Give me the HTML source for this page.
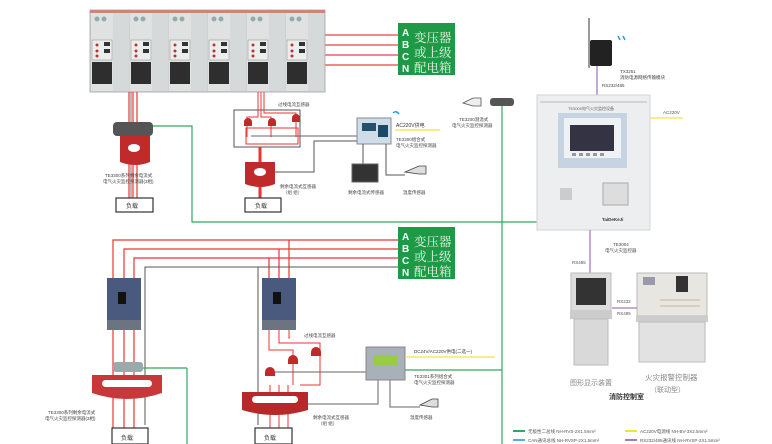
<!DOCTYPE html>
<html><head><meta charset="utf-8"><style>
html,body{margin:0;padding:0;background:#fff}
svg{display:block}
text{font-family:"Liberation Sans","Noto Sans CJK SC",sans-serif}
.sf{font-family:"Liberation Serif","Noto Serif CJK SC",serif}
</style></head><body>
<svg width="772" height="444" viewBox="0 0 772 444" xmlns="http://www.w3.org/2000/svg">
<rect width="772" height="444" fill="#fff"/>
<!-- top cabinets -->
<g>
<rect x="90" y="10" width="235" height="82" fill="#cfd2d2" stroke="#b0b3b3"/>
<g id="cab">
<rect x="91" y="12" width="22" height="79" fill="#e0e2e2"/>
<circle cx="97" cy="19" r="2.5" fill="#9aa"/><circle cx="104" cy="19" r="2.5" fill="#9aa"/>
<rect x="92" y="40" width="20" height="20" fill="#eceeee" stroke="#888" stroke-width=".5"/>
<circle cx="97" cy="45" r="1.5" fill="#b33"/><circle cx="97" cy="51" r="1.5" fill="#b33"/><circle cx="97" cy="56" r="1.5" fill="#b33"/>
<rect x="104" y="42" width="6" height="4" fill="#333"/><rect x="104" y="49" width="6" height="4" fill="#333"/>
<rect x="92" y="62" width="20" height="22" fill="#2e2e2e"/>
<rect x="113" y="12" width="16" height="79" fill="#d6d9d9"/>
</g>
<use href="#cab" x="39"/><use href="#cab" x="78"/><use href="#cab" x="117"/><use href="#cab" x="156"/><use href="#cab" x="195"/>
<rect x="90" y="10" width="235" height="3" fill="#c9867a"/>
</g>
<!-- top feeders to green box -->
<g stroke="#f08a8a" stroke-width="2"><line x1="325" y1="35" x2="398" y2="35"/><line x1="325" y1="45" x2="398" y2="45"/><line x1="325" y1="55" x2="398" y2="55"/><line x1="325" y1="65" x2="398" y2="65"/></g>
<g id="gbox"><rect x="398" y="23" width="57" height="52" fill="#1e9a46"/>
<text x="402" y="36" font-size="10" fill="#fff" font-weight="bold">A</text><text x="402" y="48" font-size="10" fill="#fff" font-weight="bold">B</text><text x="402" y="60" font-size="10" fill="#fff" font-weight="bold">C</text><text x="402" y="72" font-size="10" fill="#fff" font-weight="bold">N</text>
<text class="sf" x="414" y="42" font-size="12.5" fill="#e8f5ea">变压器</text><text class="sf" x="414" y="57" font-size="12.5" fill="#e8f5ea">或上级</text><text class="sf" x="414" y="72" font-size="12.5" fill="#e8f5ea">配电箱</text></g>
<use href="#gbox" y="204"/>

<!-- left top branch -->
<g stroke="#e33" stroke-width="1.2"><line x1="129" y1="92" x2="129" y2="200"/><line x1="133" y1="92" x2="133" y2="200"/><line x1="137" y1="92" x2="137" y2="200"/></g>
<line x1="131" y1="92" x2="131" y2="200" stroke="#555" stroke-width=".8"/>
<rect x="113" y="122" width="40" height="14" rx="4" fill="#555"/>
<path d="M120 136 h30 v26 q-15 6 -30 0z" fill="#c02a2a"/>
<ellipse cx="134" cy="148" rx="6" ry="4" fill="#fff"/>
<text x="105" y="177" font-size="4.5" fill="#444">TE3300系列剩余电流式</text><text x="103" y="183" font-size="4.5" fill="#444">电气火灾监控探测器(3相)</text>
<rect x="116" y="198" width="37" height="14" fill="#fff" stroke="#333" stroke-width="1.2"/><text x="126" y="208" font-size="6" fill="#333">负载</text>
<polyline points="153,126 192,126 192,222 537,222" fill="none" stroke="#33a860" stroke-width="1.2"/>

<!-- middle top branch -->
<g fill="none" stroke-width="1"><rect x="234" y="110" width="66" height="37" stroke="#555"/>
<polyline points="258,92 258,117 247,117 247,137" stroke="#e33"/><polyline points="261,92 261,117 271,117 271,137" stroke="#e33"/>
<polyline points="264,92 264,113 296,113 296,137" stroke="#e33"/>
<rect x="246" y="128" width="52" height="16" stroke="#e33"/>
<line x1="260" y1="147" x2="260" y2="200" stroke="#e33" stroke-width="3"/>
<polyline points="251,136 357,136 M274,129 357,129 M298,123 357,123" stroke="#666"/>
<polyline points="275,172 314,172 314,141 357,141" stroke="#555"/></g>
<path d="M244 122 a4 4 0 0 1 8 0 v4 h-8z M268 122 a4 4 0 0 1 8 0 v4 h-8z M292 118 a4 4 0 0 1 8 0 v4 h-8z" fill="#c02a2a"/>
<path d="M245 162 h30 v22 q-15 6 -30 0z" fill="#c02a2a"/><ellipse cx="260" cy="172" rx="6" ry="4" fill="#fff"/>
<text x="278" y="106" font-size="4.5" fill="#444">过线电流互感器</text>
<text x="280" y="188" font-size="4.5" fill="#444">剩余电流式互感器</text><text x="283" y="194" font-size="4.5" fill="#444">（组 组）</text>
<rect x="245" y="198" width="36" height="14" fill="#fff" stroke="#333" stroke-width="1.2"/><text x="255" y="208" font-size="6" fill="#333">负载</text>
<rect x="357" y="118" width="34" height="26" fill="#cfdde8" stroke="#889"/><rect x="362" y="123" width="14" height="8" fill="#254f6a"/><rect x="378" y="125" width="10" height="12" fill="#1a4a6a"/>
<line x1="395" y1="130" x2="440" y2="130" stroke="#f2e33a" stroke-width="1.3"/>
<text x="396" y="127" font-size="5" fill="#333">AC220V供电</text>
<text x="396" y="141" font-size="4.5" fill="#444">TE3300组合式</text><text x="396" y="147" font-size="4.5" fill="#444">电气火灾监控探测器</text>
<path d="M393 113 q3 -3 6 1" stroke="#2a9de0" stroke-width="1.5" fill="none"/>
<polyline points="363,144 363,165" stroke="#555" fill="none"/><polyline points="386,144 386,175 405,175" stroke="#555" fill="none"/>
<rect x="352" y="164" width="26" height="18" fill="#333" stroke="#666"/>
<text x="348" y="194" font-size="4.5" fill="#444">剩余电流式传感器</text>
<path d="M405 172 l14 -6 h7 v8 h-7z" fill="#ddd" stroke="#444" stroke-width=".8"/><text x="403" y="194" font-size="4.5" fill="#444">温度传感器</text>

<!-- TE3200 sensor + green vertical -->
<path d="M463 103 l10 -5 h8 v8 h-8z" fill="#eee" stroke="#555" stroke-width=".8"/><rect x="490" y="98" width="24" height="8" rx="3" fill="#555"/>
<text x="459" y="121" font-size="4.5" fill="#444">TE3200测温式</text><text x="452" y="127" font-size="4.5" fill="#444">电气火灾监控探测器</text>
<line x1="502" y1="106" x2="502" y2="444" stroke="#33a860" stroke-width="1.2"/>

<!-- TX3251 -->
<line x1="589" y1="18" x2="589" y2="68" stroke="#333"/>
<rect x="590" y="40" width="22" height="26" rx="2" fill="#222"/>
<text x="620" y="73" font-size="4.5" fill="#444">TX3251</text><text x="620" y="79" font-size="4.5" fill="#444">消防电源网络传输模块</text>
<path d="M618 36 l2 4 M623 36 l2 4" stroke="#2a9de0" stroke-width="1.5"/>
<line x1="597" y1="66" x2="597" y2="95" stroke="#a07cc0" stroke-width="1.3"/>
<text x="602" y="87" font-size="4.5" fill="#444">RS232/485</text>
<!-- main unit -->
<rect x="537" y="95" width="113" height="135" fill="#eceeef" stroke="#d2d4d6"/>
<line x1="540" y1="102" x2="647" y2="102" stroke="#bbb"/>
<text x="568" y="110" font-size="4" fill="#666">TE3000电气火灾监控设备</text>
<rect x="558" y="113" width="69" height="55" fill="#c5d3e2"/>
<rect x="564" y="118" width="57" height="40" fill="#eef2f5"/><rect x="570" y="125" width="44" height="26" fill="#334"/>
<g fill="#999"><rect x="572" y="153" width="4" height="3"/><rect x="579" y="153" width="4" height="3"/><rect x="586" y="153" width="4" height="3"/><rect x="593" y="153" width="4" height="3"/><rect x="600" y="153" width="4" height="3"/></g>
<rect x="560" y="188" width="12" height="12" fill="#ccc"/><rect x="603" y="183" width="25" height="22" fill="#ddd" stroke="#aaa"/>
<text x="602" y="221" font-size="4.5" fill="#333" font-weight="bold">TaiDeKeJi</text>
<line x1="650" y1="118" x2="683" y2="118" stroke="#f2e33a" stroke-width="1.3"/><text x="663" y="114" font-size="4.5" fill="#555">AC220V</text>
<line x1="590" y1="230" x2="590" y2="273" stroke="#a07cc0" stroke-width="1.3"/>
<text x="613" y="246" font-size="4.5" fill="#444">TE3004</text><text x="605" y="252" font-size="4.5" fill="#444">电气火灾监控器</text>
<text x="572" y="264" font-size="4.5" fill="#555">RS485</text>

<!-- bottom feeders -->
<g stroke="#e33" stroke-width="1.2" fill="none"><polyline points="398,240 113,240 113,278"/><polyline points="398,249 124,249 124,278"/><polyline points="398,258 134,258 134,278"/>
<polyline points="289,240 289,278"/><polyline points="279,249 279,278"/><polyline points="269,258 269,278"/></g>
<g stroke="#555" stroke-width="1" fill="none"><polyline points="398,267 145,267 145,425"/><polyline points="258,267 258,425"/></g>
<g id="brk"><rect x="107" y="278" width="34" height="52" fill="#4a5a7e"/><rect x="107" y="320" width="34" height="10" fill="#6b7480"/><rect x="118" y="292" width="8" height="12" fill="#111"/></g>
<use href="#brk" x="155"/>
<g stroke="#e33" stroke-width="1.2"><line x1="113" y1="330" x2="113" y2="428"/><line x1="124" y1="330" x2="124" y2="428"/><line x1="134" y1="330" x2="134" y2="428"/></g>
<rect x="113" y="362" width="30" height="10" rx="3" fill="#9aa"/>
<path d="M92 375 h70 v18 q-35 12 -70 0z" fill="#c83838"/><rect x="102" y="380" width="50" height="7" rx="3.5" fill="#fff"/>
<line x1="143" y1="368" x2="187" y2="368" stroke="#33a860" stroke-width="1.2"/><line x1="187" y1="368" x2="187" y2="444" stroke="#33a860" stroke-width="1.2"/>
<text x="48" y="414" font-size="4.5" fill="#444">TE3300系列剩余电流式</text><text x="45" y="420" font-size="4.5" fill="#444">电气火灾监控探测器(3相)</text>
<rect x="112" y="428" width="36" height="16" fill="#fff" stroke="#333" stroke-width="1.2"/><text x="121" y="440" font-size="6" fill="#333">负载</text>
<!-- middle bottom -->
<g stroke="#e33" stroke-width="1" fill="none"><polyline points="269,330 269,350 293,350 293,385"/><polyline points="279,330 279,343 320,343 320,385 300,385"/><polyline points="289,330 289,338 290,338"/>
<line x1="270" y1="385" x2="270" y2="428"/><line x1="279" y1="385" x2="279" y2="428"/><line x1="288" y1="385" x2="288" y2="428"/></g>
<path d="M265 372 a5 5 0 0 1 10 0 v4 h-10z M288 360 a5 5 0 0 1 10 0 v4 h-10z M311 352 a5 5 0 0 1 10 0 v4 h-10z" fill="#c02a2a"/>
<g stroke="#666" fill="none"><polyline points="275,372 366,372 M298,364 366,364 M321,356 366,356"/><polyline points="308,404 378,404 378,380"/><polyline points="390,380 390,407 420,407"/></g>
<path d="M242 392 h66 v18 q-33 10 -66 0z" fill="#b82828"/><rect x="252" y="396" width="46" height="7" rx="3.5" fill="#fff"/>
<text x="313" y="419" font-size="4.5" fill="#444">剩余电流式互感器</text><text x="318" y="425" font-size="4.5" fill="#444">（组 组）</text>
<text x="304" y="337" font-size="4.5" fill="#444">过线电流互感器</text>
<rect x="255" y="428" width="37" height="16" fill="#fff" stroke="#333" stroke-width="1.2"/><text x="264" y="440" font-size="6" fill="#333">负载</text>
<rect x="366" y="347" width="39" height="33" fill="#a8b0b8" stroke="#888"/><rect x="373" y="355" width="24" height="11" fill="#9c4"/>
<line x1="405" y1="357" x2="495" y2="357" stroke="#f2e33a" stroke-width="1.3"/><line x1="405" y1="370" x2="502" y2="370" stroke="#33a860" stroke-width="1.2"/>
<text x="414" y="353" font-size="4.5" fill="#333">DC24V/AC220V供电(二选一)</text>
<text x="414" y="378" font-size="4.5" fill="#444">TE3301系列组合式</text><text x="414" y="384" font-size="4.5" fill="#444">电气火灾监控探测器</text>
<path d="M420 405 l12 -6 h6 v8 h-6z" fill="#ddd" stroke="#444" stroke-width=".8"/><text x="410" y="419" font-size="4.5" fill="#444">温度传感器</text>

<!-- control room -->
<rect x="571" y="273" width="40" height="38" fill="#ddd" stroke="#bbb"/><rect x="576" y="278" width="30" height="27" fill="#333"/>
<rect x="570" y="311" width="42" height="8" fill="#ccc"/><rect x="574" y="319" width="34" height="46" fill="#d9d9d9" stroke="#bbb"/>
<rect x="637" y="273" width="70" height="43" fill="#e8e6e0" stroke="#bbb"/><rect x="643" y="277" width="12" height="8" fill="#99a"/><rect x="676" y="276" width="12" height="16" fill="#333"/>
<g stroke="#c9b7a0" stroke-width="1"><line x1="660" y1="300" x2="700" y2="300"/><line x1="660" y1="306" x2="700" y2="306"/></g>
<rect x="636" y="316" width="72" height="6" fill="#ccc"/><rect x="639" y="322" width="66" height="40" fill="#e2e2e2" stroke="#bbb"/>
<line x1="612" y1="308" x2="637" y2="308" stroke="#a07cc0" stroke-width="1.3"/>
<text x="617" y="303" font-size="4.5" fill="#555">RS232</text><text x="617" y="315" font-size="4.5" fill="#555">RS485</text>
<text x="570" y="385" font-size="7" fill="#888">图形显示装置</text>
<text x="645" y="380" font-size="7.5" fill="#888">火灾报警控制器</text><text x="650" y="392" font-size="7" fill="#888">（联动型）</text>
<text x="609" y="399" font-size="7" fill="#333" font-weight="bold">消防控制室</text>
<!-- legend -->
<line x1="513" y1="431" x2="525" y2="431" stroke="#33a860" stroke-width="2"/><text x="528" y="433" font-size="4.5" fill="#555">无极性二总线 NH-RVS-2X1.5mm²</text>
<line x1="513" y1="440" x2="525" y2="440" stroke="#5aacdc" stroke-width="2"/><text x="528" y="442" font-size="4.5" fill="#555">CAN通讯总线 NH-RVSP-2X1.5mm²</text>
<line x1="625" y1="431" x2="637" y2="431" stroke="#f2e33a" stroke-width="2"/><text x="640" y="433" font-size="4.5" fill="#555">AC220V电源线   NH-BV-3X2.5mm²</text>
<line x1="625" y1="440" x2="637" y2="440" stroke="#a07cc0" stroke-width="2"/><text x="640" y="442" font-size="4.5" fill="#555">RS232/485通讯线 NH-RVSP-2X1.5mm²</text>
</svg>
</body></html>
